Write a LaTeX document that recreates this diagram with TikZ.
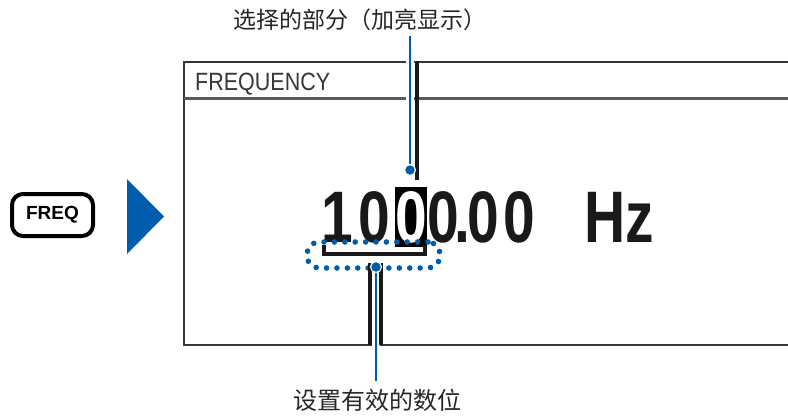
\documentclass[tikz,border=0pt]{standalone}
\usepackage{fontspec}
\setmainfont{Liberation Sans}
\newfontfamily\cjk{Noto Sans CJK SC}
\usetikzlibrary{positioning}
\definecolor{leadblue}{RGB}{0,92,172}
\definecolor{lcdgray}{RGB}{55,55,55}

\begin{document}
\begin{tikzpicture}[x=1pt, y=-1pt,
        callout/.style={font=\cjk\fontsize{23}{23}\selectfont, text=black!85, inner sep=0pt},
        lcd/.style={font=\bfseries\fontsize{73}{73}\selectfont, xscale=0.78, inner sep=0pt, anchor=base, text=black!90},
        leader/.style={leadblue, line width=2.5pt},
        halo/.style={white, line width=8pt},
        bar/.style={black!90, line width=4pt},
        pindot/.style={circle, fill=leadblue, draw=white, line width=1.2pt, minimum size=11pt, inner sep=0pt}]
        \useasboundingbox (0,0) rectangle (788,416);

        % key and arrow
        \node[draw, line width=4pt, rounded corners=11pt, minimum width=81pt, minimum height=42pt,
              font=\bfseries\fontsize{19}{19}\selectfont] (freq) at (52.5,215) {FREQ};
        \fill[leadblue] (127,179) -- (164,216.5) -- (127,254) -- cycle;

        % screen
        \draw[lcdgray, line width=2pt] (788,62) -- (184,62) -- (184,345) -- (788,345);
        \draw[black!65, line width=3pt] (184,98) -- (788,98);
        \node[font=\fontsize{25}{25}\selectfont, xscale=0.86, text=lcdgray, anchor=base west, inner sep=0pt] (title) at (195,90) {FREQUENCY};

        % value
        \node[lcd] (d1) at (337,242) {1};
        \node[lcd] (d2) at (374,242) {0};
        \node[lcd, anchor=center, fill=black, text=white, minimum width=41pt, minimum height=60pt] (sel) at (411,217) {0};
        \node[lcd] (d4) at (443,242) {0};
        \node[lcd] (pt) at (462,242) {.};
        \node[lcd] (d5) at (483,242) {0};
        \node[lcd] (d6) at (519,242) {0};
        \node[lcd] (unit) at (619,242) {Hz};

        % valid digits
        \node[draw=leadblue, line width=5.6pt, line cap=round, dash pattern=on 0pt off 10.4pt, rounded corners=12pt,
              minimum width=133pt, minimum height=26pt, inner sep=0pt] (range) at (373.5,255) {};
        \draw[black!90, line width=3.5pt] (324,245) -- (324,254) -- (425,254) -- (425,245);

        % callouts
        \node[callout] (sellabel) at (360,20) {选择的部分（加亮显示）};
        \node[callout, font=\cjk\fontsize{24}{24}\selectfont] (digitlabel) at (377,400) {设置有效的数位};
        \node[pindot] (topdot) at (410,170) {};
        \node[pindot] (botdot) at (376,267) {};

        \draw[halo] (410,52) -- (410,176);
        \draw[bar] (417,61) -- (417,180);
        \draw[halo] (375.5,272) -- (375.5,352);
        \draw[bar] (370,263) -- (370,345);
        \draw[bar] (381,263) -- (381,345);

        \draw[leader, shorten <=5pt] (sellabel.south -| topdot) -- (topdot);
        \draw[leader, shorten >=8pt] (botdot) -- (botdot |- digitlabel.north);
        \node[pindot] at (topdot) {};
        \node[pindot] at (botdot) {};
\end{tikzpicture}
\end{document}
